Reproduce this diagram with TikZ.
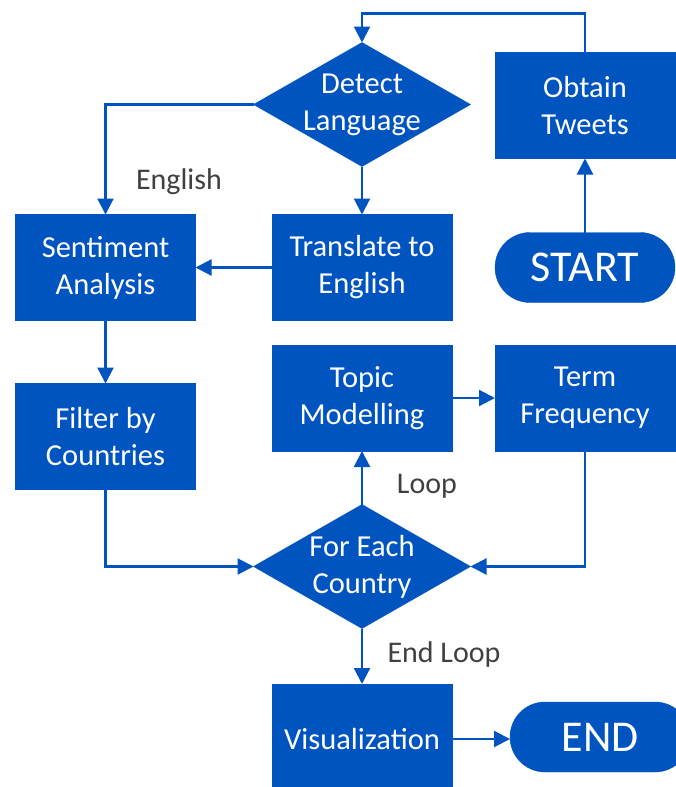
\documentclass[tikz,border=0pt]{standalone}
\usepackage{fontspec}
\setmainfont{Carlito}
\usetikzlibrary{arrows.meta,shapes.geometric}
\definecolor{flowblue}{RGB}{0,84,191}
\definecolor{notegray}{RGB}{64,64,64}

\begin{document}
\begin{tikzpicture}[x=1pt,y=-1pt,
  box/.style={fill=flowblue, draw=flowblue, text=white, align=center,
    minimum width=180pt, minimum height=106pt, outer sep=0pt,
    font=\fontsize{30.5}{37}\selectfont},
  pill/.style={box, minimum height=70pt, rounded corners=35pt,
    font=\fontsize{44}{50}\selectfont},
  decide/.style={diamond, fill=flowblue, draw=flowblue, inner sep=0pt,
    outer sep=0pt, minimum width=217pt, minimum height=124pt},
  decidetext/.style={text=white, align=center, font=\fontsize{30.5}{37}\selectfont},
  flow/.style={draw=flowblue, line width=2.2pt, -{Triangle[width=16pt,length=16pt]}},
  note/.style={text=notegray, font=\fontsize{30}{34}\selectfont}]

\useasboundingbox (0,0) rectangle (676,787);

\node[box] (obtain) at (585,105.5) {Obtain\\Tweets};
\node[decide, label={[decidetext]center:Detect\\Language}] (detect) at (362,104.5) {};
\node[box] (sentiment) at (105.5,267.5) {Sentiment\\Analysis};
\node[box] (translate) at (362,267.5) {Translate to\\English};
\node[pill] (start) at (585,267.5) {START};
\node[box] (filter) at (105.5,436.5) {Filter by\\Countries};
\node[box] (topic) at (362,398) {Topic\\Modelling};
\node[box] (term) at (585,398) {Term\\Frequency};
\node[decide, label={[decidetext]center:For Each\\Country}] (foreach) at (362,566.5) {};
\node[box, minimum height=110pt] (visual) at (362,739) {Visualization};
\node[pill] (finish) at (600,737) {END};

\node[note] (english) at (179,182) {English};
\node[note] (loop) at (427,486) {Loop};
\node[note] (endloop) at (444,654) {End Loop};

\draw[flow] (obtain.north) -- ++(0,-39) -| (detect.north);
\draw[flow] (detect.west) -| (sentiment.north);
\draw[flow] (detect.south) -- (translate.north);
\draw[flow] (translate.west) -- (sentiment.east);
\draw[flow] (start.north) -- (obtain.south);

\draw[flow] (sentiment.south) -- (filter.north);
\draw[flow] (filter.south) |- (foreach.west);
\draw[flow] (term.south) |- (foreach.east);
\draw[flow] (foreach.north) -- (topic.south);
\draw[flow] (topic.east) -- (term.west);

\draw[flow] (foreach.south) -- (visual.north);
\draw[flow] (visual.east) -- ([yshift=-2pt]finish.west);

\end{tikzpicture}
\end{document}
